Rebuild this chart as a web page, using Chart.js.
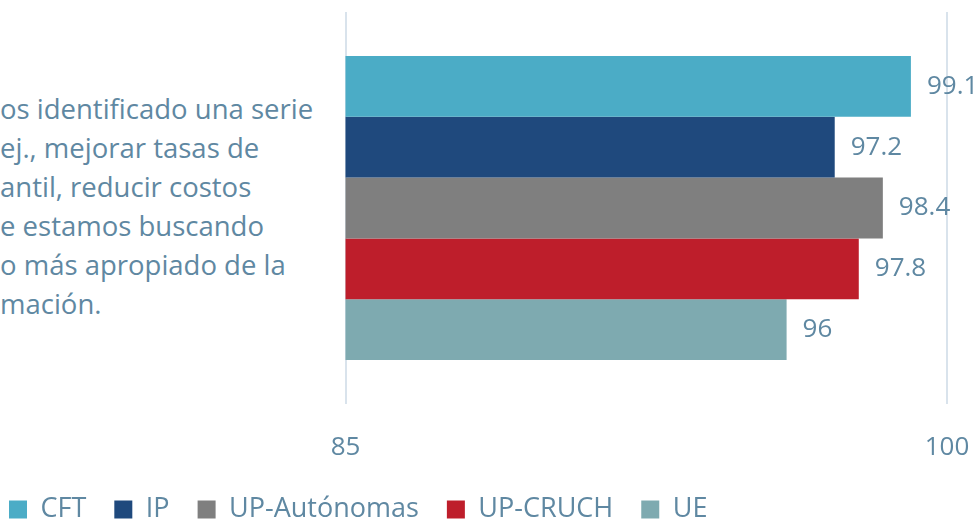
<!DOCTYPE html>
<html>
<head>
<meta charset="utf-8">
<script src="https://cdn.jsdelivr.net/npm/chart.js@4.4.1/dist/chart.umd.min.js"></script>
<style>
  html, body { margin: 0; padding: 0; background: #fff; }
  #wrap { position: relative; width: 980px; height: 519px; overflow: hidden; }
  #nota {
    position: absolute; left: 0; top: 89px;
    font-family: "Open Sans", sans-serif; font-size: 27.5px; line-height: 39px;
    color: #5f88a2; white-space: pre;
  }
  canvas { position: absolute; left: 0; top: 0; }
</style>
</head>
<body>
<div id="wrap">
  <div id="nota">os identificado una serie
ej., mejorar tasas de
antil, reducir costos
e estamos buscando
o más apropiado de la
mación.</div>
  <canvas id="grafico" width="980" height="519"></canvas>
</div>
<script>
// datos
const categorias = [''];
const series = ['CFT', 'IP', 'UP-Autónomas', 'UP-CRUCH', 'UE'];
const valores = [99.1, 97.2, 98.4, 97.8, 96];
const colores = ['#4bacc6', '#1f497d', '#7f7f7f', '#be1e2b', '#7eaab0'];
const ticksX = [85, 100];

const colorTexto = '#5f88a2';
const fuente = '"Open Sans", sans-serif';

// etiquetas de valor al final de cada barra
const etiquetas = {
  id: 'etiquetas',
  afterDatasetsDraw(chart) {
    const ctx = chart.ctx;
    ctx.save();
    ctx.font = '26px ' + fuente;
    ctx.fillStyle = colorTexto;
    ctx.textBaseline = 'middle';
    ctx.textAlign = 'left';
    chart.data.datasets.forEach((ds, i) => {
      chart.getDatasetMeta(i).data.forEach((bar, j) => {
        ctx.fillText(String(ds.data[j]), bar.x + 16, bar.y);
      });
    });
    ctx.restore();
  }
};

new Chart(document.getElementById('grafico'), {
  type: 'bar',
  data: {
    labels: categorias,
    datasets: series.map((s, i) => ({
      label: s,
      data: [valores[i]],
      backgroundColor: colores[i],
      categoryPercentage: 0.776,
      barPercentage: 1
    }))
  },
  options: {
    indexAxis: 'y',
    responsive: false,
    animation: false,
    layout: { padding: { top: 12, right: 33, left: -19, bottom: -14 } },
    scales: {
      x: {
        min: 85, max: 100,
        afterBuildTicks: s => { s.ticks = ticksX.map(v => ({ value: v })); },
        afterFit: s => { s.height = 64; },
        grid: { color: '#d9e3ec', lineWidth: 2, drawTicks: true, tickLength: 24, tickColor: 'rgba(0,0,0,0)' },
        border: { display: false },
        ticks: { color: colorTexto, font: { family: fuente, size: 26 }, padding: 4 }
      },
      y: {
        afterFit: s => { s.width = 364.5; },
        grid: { display: false },
        border: { display: false },
        ticks: { display: false }
      }
    },
    plugins: {
      legend: {
        position: 'bottom',
        align: 'start',
        labels: {
          color: colorTexto,
          font: { family: fuente, size: 27 },
          boxWidth: 18, boxHeight: 18,
          padding: 28
        }
      },
      tooltip: { enabled: false }
    }
  },
  plugins: [etiquetas]
});
</script>
</body>
</html>
